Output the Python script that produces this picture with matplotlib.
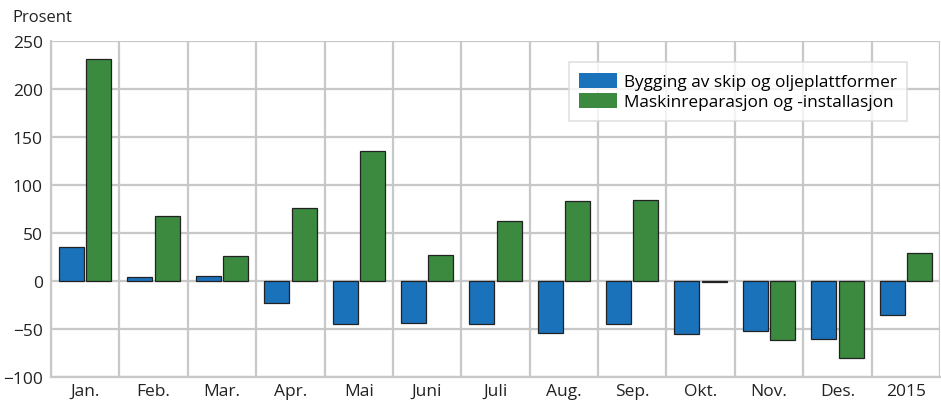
import matplotlib
matplotlib.use("Agg")
from matplotlib import pyplot as plt
from matplotlib.patches import Patch
import numpy as np

plt.rcParams['font.family'] = ['Open Sans', 'DejaVu Sans']

months = ["Jan.", "Feb.", "Mar.", "Apr.", "Mai", "Juni", "Juli", "Aug.",
          "Sep.", "Okt.", "Nov.", "Des.", "2015"]
skip = [35, 4, 5, -23, -45, -44, -45, -54, -45, -55, -52, -60, -35]
maskin = [231, 68, 26, 76, 135, 27, 63, 83, 84, -1, -61, -80, 29]
labels = ["Bygging av skip og oljeplattformer", "Maskinreparasjon og -installasjon"]

blue = "#1a72bb"
green = "#3b8a3f"
grid_col = "#c8c8c8"

fig = plt.figure(figsize=(9.41, 4.02), dpi=100)
ax = fig.add_axes([51 / 941, 24 / 402, 889 / 941, 336 / 402])

x = np.arange(len(months))
w = 0.365
ax.bar(x - 0.2, skip, w, color=blue, edgecolor="#222222", linewidth=0.9, zorder=3)
ax.bar(x + 0.2, maskin, w, color=green, edgecolor="#222222", linewidth=0.9, zorder=3)

ax.set_xlim(-0.5, len(months) - 0.5)
ax.set_ylim(-100, 250)
ax.set_yticks(np.arange(-100, 251, 50))
ax.set_xticks(x)
ax.set_xticklabels(months)
ax.set_xticks(np.arange(-0.5, len(months), 1), minor=True)
ax.tick_params(which="both", length=0, labelsize=12.5, colors="#222222")
ax.tick_params(axis="y", pad=6)
ax.tick_params(axis="x", pad=4)

ax.grid(axis="y", which="major", color=grid_col, linewidth=1.6, zorder=0)
ax.grid(axis="x", which="minor", color=grid_col, linewidth=1.6, zorder=0)
for s in ["top", "right"]:
    ax.spines[s].set_visible(False)
for s in ["left", "bottom"]:
    ax.spines[s].set_color(grid_col)
    ax.spines[s].set_linewidth(1.6)

handles = [Patch(facecolor=blue), Patch(facecolor=green)]
leg = ax.legend(handles, labels, loc="upper right", bbox_to_anchor=(0.963, 0.937),
                fontsize=12.4, frameon=True, fancybox=False, handlelength=2.2,
                handleheight=1.0, handletextpad=0.4, labelspacing=0.15,
                borderpad=0.6, borderaxespad=0)
leg.get_frame().set_edgecolor("#d8d8d8")
leg.get_frame().set_linewidth(1.2)
leg.set_zorder(5)

fig.text(12 / 941, 1 - 18 / 402, "Prosent", fontsize=12, color="#222222", va="center")

fig.savefig("out.png", dpi=100)
